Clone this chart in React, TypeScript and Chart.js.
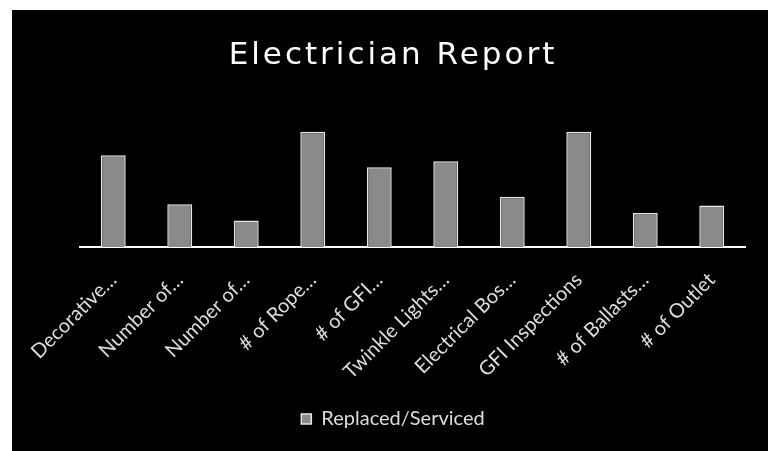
import React, { useEffect, useRef } from "react";
import { Chart, registerables } from "chart.js";

Chart.register(...registerables);

const categories = [
  "Decorative…",
  "Number of…",
  "Number of…",
  "# of Rope…",
  "# of GFI…",
  "Twinkle Lights…",
  "Electrical Bos…",
  "GFI Inspections",
  "# of Ballasts…",
  "# of Outlet",
];
const replacedServiced = [62, 29, 18, 78, 54, 58, 34, 78, 23, 28];
const seriesName = "Replaced/Serviced";
const chartTitle = "Electrician Report";
const yMin = 0;
const yMax = 100;

const titleSpacing = {
  id: "titleSpacing",
  beforeDraw(chart: any) {
    const tb = chart.titleBlock;
    if (tb && !tb.__patched) {
      const orig = tb.draw.bind(tb);
      tb.draw = (...args: any[]) => {
        const ctx = chart.ctx;
        ctx.save();
        ctx.letterSpacing = "3px";
        orig(...args);
        ctx.restore();
      };
      tb.__patched = true;
    }
  },
};

export default function App() {
  const ref = useRef<HTMLCanvasElement | null>(null);

  useEffect(() => {
    if (!ref.current) return;
    const chart = new Chart(ref.current, {
      type: "bar",
      data: {
        labels: categories,
        datasets: [
          {
            label: seriesName,
            data: replacedServiced,
            backgroundColor: "#8a8a8a",
            borderColor: "#e6e6e6",
            borderWidth: 1.5,
            barPercentage: 0.375,
            categoryPercentage: 1,
          },
        ],
      },
      plugins: [titleSpacing],
      options: {
        animation: false,
        responsive: true,
        maintainAspectRatio: false,
        layout: { padding: { left: 29, right: 23, top: 0, bottom: 12 } },
        plugins: {
          title: {
            display: true,
            text: chartTitle,
            color: "#ffffff",
            font: { family: "DejaVu Sans", size: 31, weight: "normal" },
            padding: { top: 27, bottom: 25 },
          },
          legend: {
            position: "bottom",
            labels: {
              color: "#dddddd",
              font: { family: "Lato", size: 20 },
              boxWidth: 10,
              boxHeight: 10,
              padding: 10,
            },
          },
          tooltip: { enabled: false },
        },
        scales: {
          x: {
            grid: { display: false },
            border: { display: true, color: "#ffffff", width: 2 },
            ticks: {
              color: "#dddddd",
              font: { family: "Lato", size: 20 },
              minRotation: 45,
              maxRotation: 45,
              padding: 13,
              autoSkip: false,
            },
            afterFit: (s: any) => {
              s.height = 152;
            },
          },
          y: {
            display: true,
            min: yMin,
            max: yMax,
            grid: { display: false },
            border: { display: false },
            ticks: { display: false },
            afterFit: (s: any) => {
              s.width = 39;
            },
          },
        },
      },
    });
    return () => chart.destroy();
  }, []);

  return (
    <div
      style={{
        position: "absolute",
        left: 12,
        top: 10,
        width: 756,
        height: 441,
        background: "#000",
      }}
    >
      <canvas ref={ref} />
    </div>
  );
}
